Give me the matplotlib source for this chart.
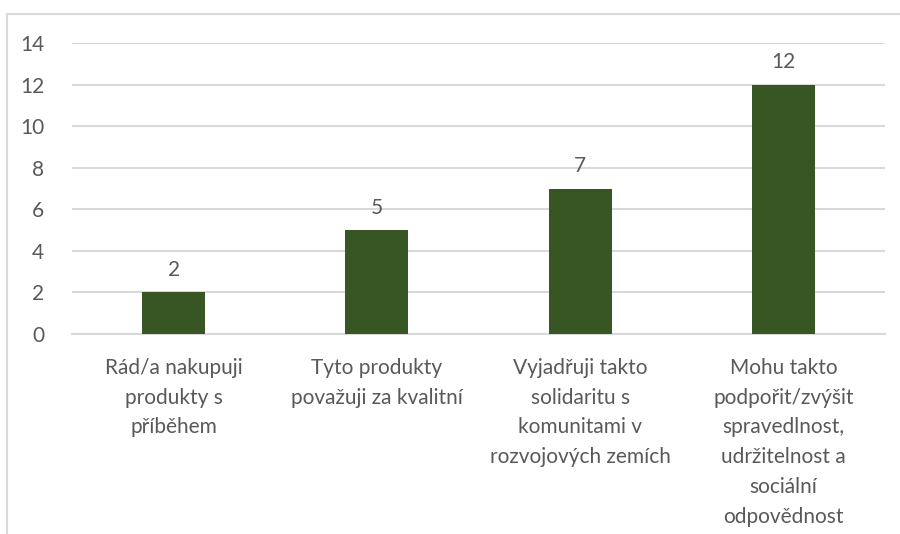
import matplotlib
matplotlib.use("Agg")
import matplotlib.pyplot as plt
from matplotlib.patches import Rectangle

categories = [
    "Rád/a nakupuji\nprodukty s\npříběhem",
    "Tyto produkty\npovažuji za kvalitní",
    "Vyjadřuji takto\nsolidaritu s\nkomunitami v\nrozvojových zemích",
    "Mohu takto\npodpořit/zvýšit\nspravedlnost,\nudržitelnost a\nsociální\nodpovědnost",
]
values = [2, 5, 7, 12]
yticks = [0, 2, 4, 6, 8, 10, 12, 14]

plt.rcParams['font.family'] = ['Lato', 'DejaVu Sans']
text_color = '#595959'
grid_color = '#D9D9D9'
bar_color = '#375623'
fs = 15

fig = plt.figure(figsize=(9, 5.34), dpi=100)
# chart border
fig.patches.append(Rectangle((7/900, -0.1), 1.0, 1 - 14/534 + 0.1, transform=fig.transFigure,
                             fill=False, edgecolor=grid_color, linewidth=1.5))

ax = fig.add_axes([72/900, 1 - 334/534, (885 - 72)/900, (334 - 43)/534])
x = list(range(len(categories)))
bars = ax.bar(x, values, width=0.31, color=bar_color, zorder=3)
ax.set_xlim(-0.5, len(categories) - 0.5)
ax.set_ylim(0, 14)
ax.set_yticks(yticks)
ax.set_yticklabels([str(t) for t in yticks])
ax.yaxis.grid(True, color=grid_color, linewidth=1.5, zorder=0)
for s in ['top', 'right', 'left']:
    ax.spines[s].set_visible(False)
ax.spines['bottom'].set_color(grid_color)
ax.spines['bottom'].set_linewidth(1.5)
ax.tick_params(axis='y', length=0, pad=20, labelsize=fs, labelcolor=text_color)
ax.tick_params(axis='x', length=0, pad=17, labelsize=fs, labelcolor=text_color)
ax.set_xticks(x)
ax.set_xticklabels(categories, linespacing=1.62, va='top', ha='center')

for xi, v in zip(x, values):
    ax.annotate(str(v), (xi, v), xytext=(0, 9), textcoords='offset points',
                ha='center', va='bottom', fontsize=fs, color=text_color)

fig.savefig("out.png", dpi=100)
